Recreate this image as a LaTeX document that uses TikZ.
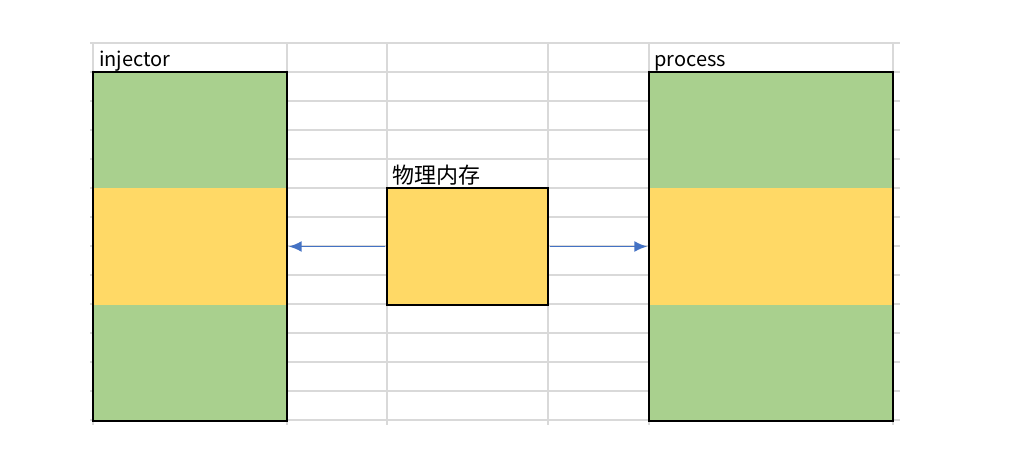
\documentclass[tikz,border=0pt]{standalone}
\usepackage{fontspec}
\setmainfont{Noto Sans CJK SC}
\usetikzlibrary{arrows.meta}
\definecolor{mygreen}{RGB}{169, 208, 142}
\definecolor{myyellow}{RGB}{255, 217, 102}
\definecolor{mygrid}{RGB}{217, 217, 217}
\definecolor{myblue}{RGB}{68, 114, 196}
\tikzset{>={Latex[length=13, width=11]}}

\begin{document}
\begin{tikzpicture}[x=1pt, y=-1pt,
  band/.style={fill=myyellow, inner sep=0, minimum height=117},
  membox/.style={fill=myyellow, draw, line width=2.6, inner sep=0, minimum width=161, minimum height=117},
  lbl/.style={anchor=base west, inner sep=0, font=\fontsize{20}{24}\selectfont},
  link/.style={->, myblue, line width=1.8, shorten <=1, shorten >=1.5}]
\useasboundingbox (0,0) rectangle (1032,470);
% sheet grid
\foreach \r in {0,...,13}
  \draw[mygrid, line width=1.2] (90,43+29*\r) -- (900,43+29*\r);
\foreach \c in {93,287,387,548,649,893}
  \draw[mygrid, line width=1.2] (\c,43) -- (\c,425);

% injector
\fill[mygreen] (93,72) rectangle (287,421);
\node[band, minimum width=194] (injband) at (190,246.5) {};
\draw[line width=2.6] (93,72) rectangle (287,421);
\node[lbl] (injlbl) at (99,67) {injector};

% process
\fill[mygreen] (649,72) rectangle (893,421);
\node[band, minimum width=244] (procband) at (771,246.5) {};
\draw[line width=2.6] (649,72) rectangle (893,421);
\node[lbl] (proclbl) at (654,67) {process};

% physical memory
\node[membox] (mem) at (467.5,246.5) {};
\node[lbl, font=\fontsize{22}{26}\selectfont] (memlbl) at (392,183.5) {物理内存};

\draw[link] (mem.west) -- (injband.east);
\draw[link] (mem.east) -- (procband.west);

\end{tikzpicture}
\end{document}
